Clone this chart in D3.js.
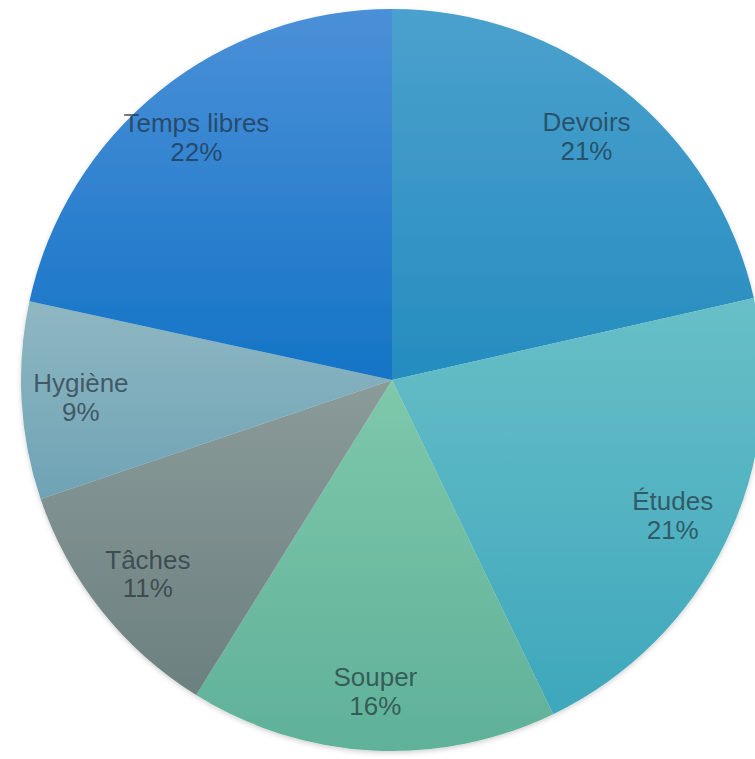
<!DOCTYPE html>
<html>
<head>
<meta charset="utf-8">
<script src="https://cdn.jsdelivr.net/npm/d3@7"></script>
<style>
  html, body { margin: 0; padding: 0; background: #fff; }
  svg { display: block; }
</style>
</head>
<body>
<div id="chart"></div>
<script>
// data (share of the evening, %)
const categories = ['Devoirs', 'Études', 'Souper', 'Tâches', 'Hygiène', 'Temps libres'];
const values = [21.45, 21.4, 16.0, 10.95, 8.6, 21.6];

// gradient colours per slice, top -> bottom
const topColors = ['#4ba1cd', '#68bfc7', '#7ec8ab', '#8a9b99', '#8fb7c2', '#4b90d8'];
const bottomColors = ['#258cbf', '#3ea7bc', '#5fb199', '#6c8080', '#6ea3b5', '#1474c6'];

const width = 755, height = 759;
const cx = 392, cy = 380, radius = 371;

const svg = d3.select('#chart').append('svg')
  .attr('width', width)
  .attr('height', height);

const defs = svg.append('defs');

// soft edge shadow
const shadow = defs.append('filter')
  .attr('id', 'shadow')
  .attr('x', '-5%').attr('y', '-5%')
  .attr('width', '110%').attr('height', '110%');
shadow.append('feDropShadow')
  .attr('dx', 0).attr('dy', 2)
  .attr('stdDeviation', 2.5)
  .attr('flood-color', '#000')
  .attr('flood-opacity', 0.18);

categories.forEach(function(c, i) {
  const grad = defs.append('linearGradient')
    .attr('id', 'grad' + i)
    .attr('x1', 0).attr('y1', 0)
    .attr('x2', 0).attr('y2', 1);
  grad.append('stop').attr('offset', '0%').attr('stop-color', topColors[i]);
  grad.append('stop').attr('offset', '100%').attr('stop-color', bottomColors[i]);
});

const data = categories.map(function(c, i) {
  return { name: c, value: values[i], index: i };
});

const total = d3.sum(values);

const pie = d3.pie()
  .sort(null)
  .value(function(d) { return d.value; });

const arc = d3.arc()
  .innerRadius(0)
  .outerRadius(radius);

// labels sit at roughly 84% of the radius
const labelArc = d3.arc()
  .innerRadius(radius * 0.84)
  .outerRadius(radius * 0.84);

const g = svg.append('g')
  .attr('transform', 'translate(' + cx + ',' + cy + ')');

g.append('g')
  .attr('filter', 'url(#shadow)')
  .selectAll('path')
  .data(pie(data))
  .enter()
  .append('path')
  .attr('d', arc)
  .attr('fill', function(d) { return 'url(#grad' + d.data.index + ')'; });

const labels = g.append('g')
  .selectAll('text')
  .data(pie(data))
  .enter()
  .append('text')
  .attr('transform', function(d) {
    const p = labelArc.centroid(d);
    return 'translate(' + p[0] + ',' + p[1] + ')';
  })
  .attr('text-anchor', 'middle')
  .style('font-family', '"Liberation Sans", Arial, sans-serif')
  .style('font-size', '26px')
  .style('fill', '#1b2631')
  .style('fill-opacity', 0.64);

labels.append('tspan')
  .attr('x', 0)
  .attr('dy', '-0.2em')
  .text(function(d) { return d.data.name; });

labels.append('tspan')
  .attr('x', 0)
  .attr('dy', '1.1em')
  .text(function(d) { return Math.round(d.data.value / total * 100) + '%'; });
</script>
</body>
</html>
